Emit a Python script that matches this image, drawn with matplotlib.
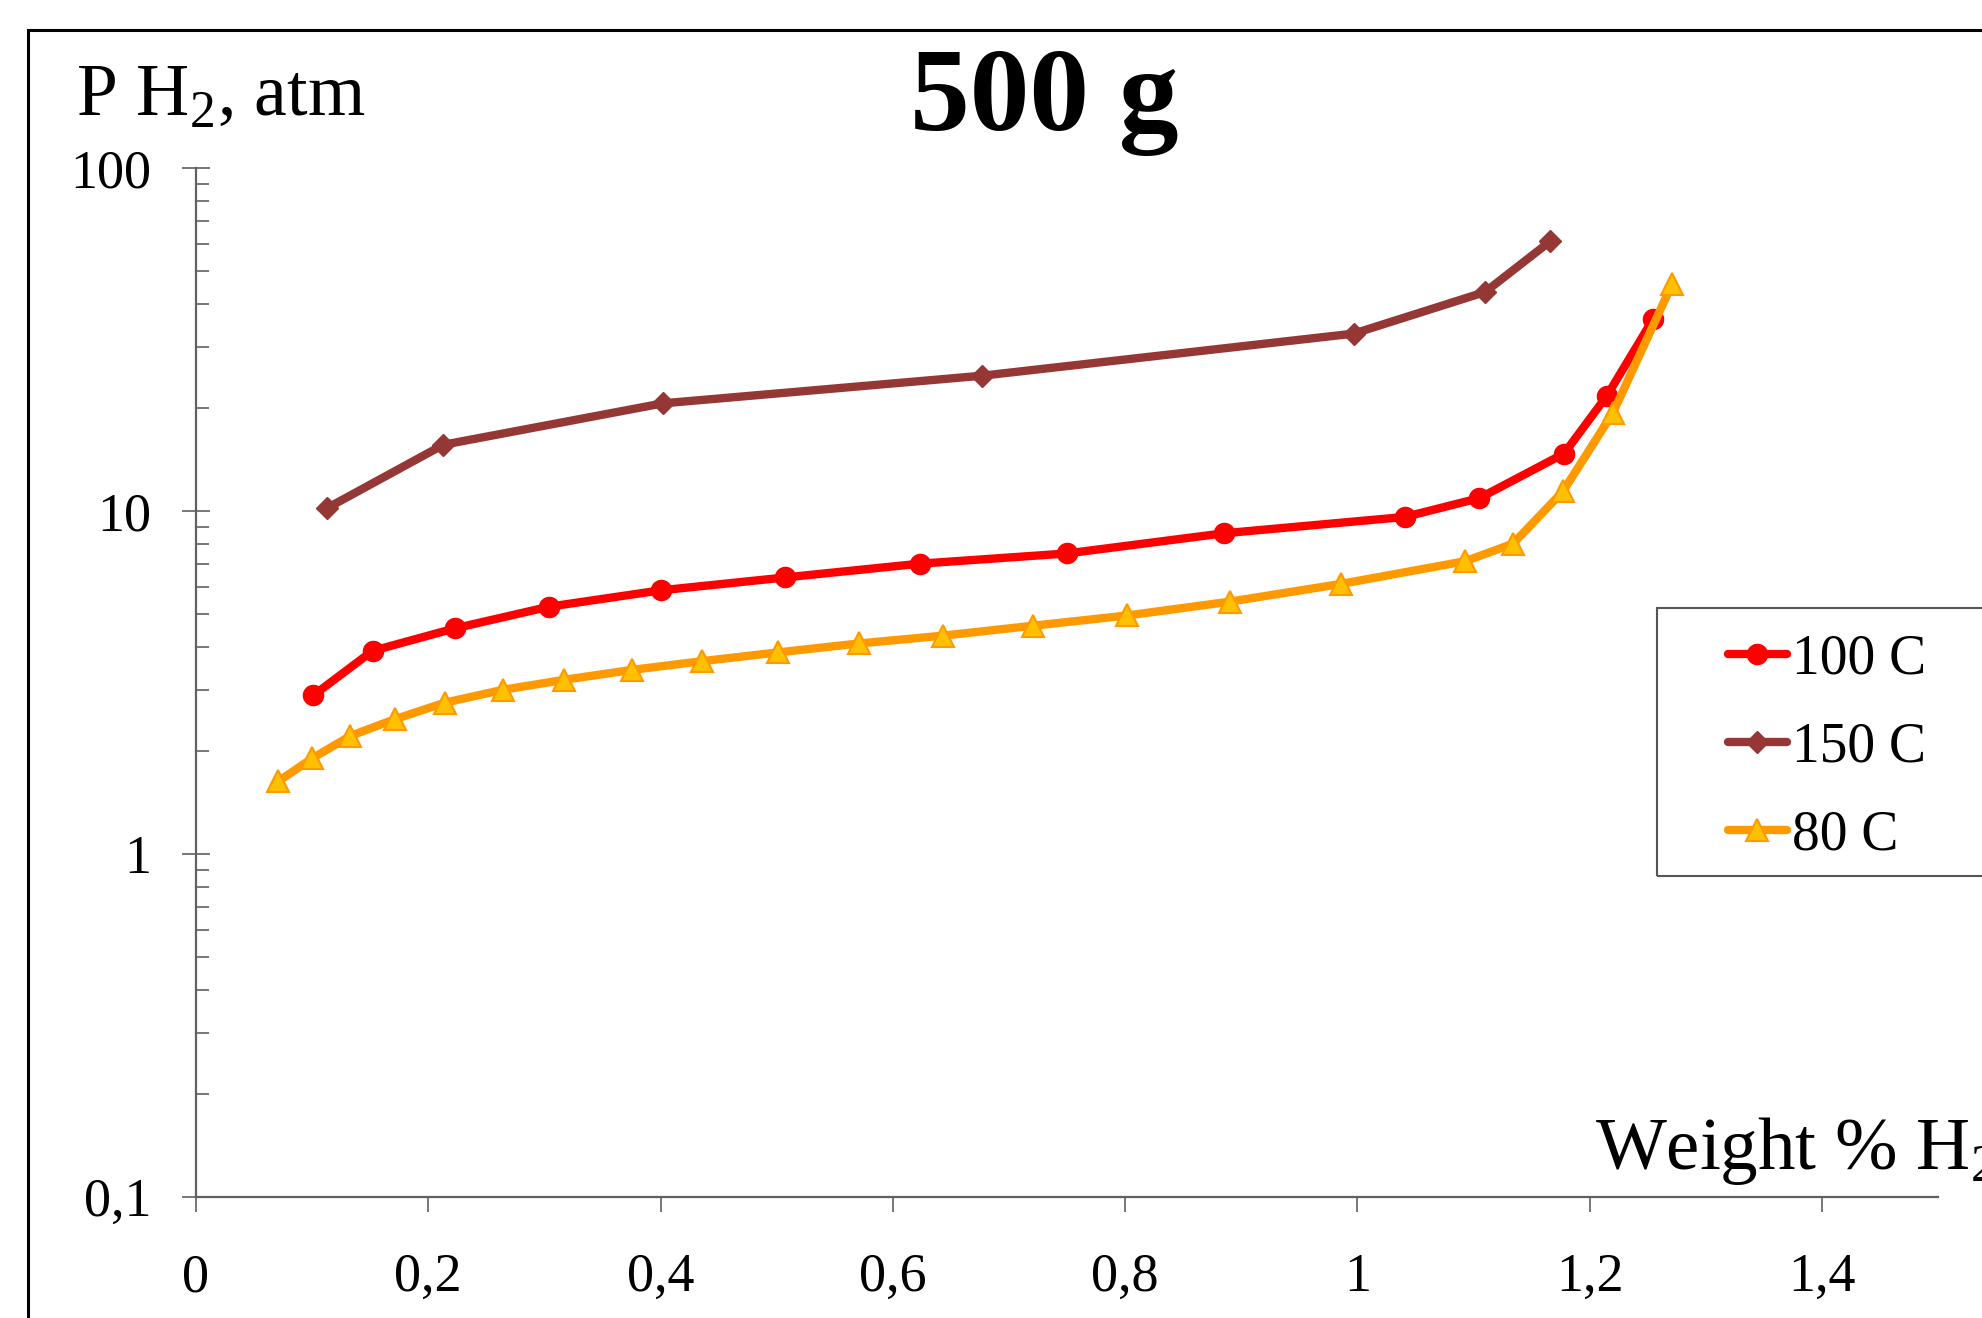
import matplotlib
matplotlib.use("Agg")
import matplotlib.pyplot as plt
from matplotlib.patches import Rectangle

# =============================
# DATA
# =============================
x_100 = [0.101, 0.152, 0.223, 0.304, 0.400, 0.507, 0.623, 0.750, 0.885, 1.041, 1.105, 1.178, 1.215, 1.255]
p_100 = [2.90, 3.91, 4.55, 5.26, 5.87, 6.40, 7.02, 7.52, 8.61, 9.61, 10.9, 14.7, 21.7, 36.4]

x_150 = [0.113, 0.213, 0.402, 0.677, 0.997, 1.110, 1.166]
p_150 = [10.2, 15.6, 20.6, 24.8, 32.9, 43.5, 61.1]

x_80 = [0.071, 0.100, 0.133, 0.171, 0.214, 0.264, 0.317, 0.375, 0.436, 0.501, 0.571,
        0.643, 0.721, 0.802, 0.890, 0.986, 1.093, 1.134, 1.177, 1.220, 1.271]
p_80 = [1.63, 1.90, 2.21, 2.47, 2.76, 3.01, 3.22, 3.44, 3.65, 3.87, 4.11,
        4.33, 4.63, 4.96, 5.44, 6.13, 7.14, 8.03, 11.4, 19.3, 45.8]

series_labels = ["100 C", "150 C", "80 C"]

x_ticks = [0, 0.2, 0.4, 0.6, 0.8, 1.0, 1.2, 1.4]
x_ticklabels = ["0", "0,2", "0,4", "0,6", "0,8", "1", "1,2", "1,4"]
y_ticks = [0.1, 1, 10, 100]
y_ticklabels = ["0,1", "1", "10", "100"]

# =============================
# STYLE
# =============================
plt.rcParams["font.family"] = ["Liberation Serif", "DejaVu Serif"]
plt.rcParams["mathtext.fontset"] = "custom"
plt.rcParams["mathtext.rm"] = "Liberation Serif"

W, H = 1982, 1318
fig = plt.figure(figsize=(W / 100, H / 100), dpi=100)

ax = fig.add_axes([196 / W, 1 - 1197 / H, (1938 - 196) / W, (1197 - 168) / H])

ax.plot(x_100, p_100, color="#FF0000", lw=6, marker="o", ms=14.5,
        solid_capstyle="round", solid_joinstyle="round", label=series_labels[0])
ax.plot(x_150, p_150, color="#953735", lw=6, marker="D", ms=11,
        solid_capstyle="round", solid_joinstyle="round", label=series_labels[1])
ax.plot(x_80, p_80, color="#FF9900", lw=6, marker="^", ms=15.5,
        mfc="#FFC000", mec="#FF9900", mew=1.5,
        solid_capstyle="round", solid_joinstyle="round", label=series_labels[2])

ax.set_yscale("log")
ax.set_xlim(0, 1.5)
ax.set_ylim(0.1, 100)

ax.set_xticks(x_ticks)
ax.set_xticklabels(x_ticklabels)
ax.set_yticks(y_ticks)
ax.set_yticklabels(y_ticklabels)

axis_col = "#606060"
for s in ["top", "right"]:
    ax.spines[s].set_visible(False)
for s in ["left", "bottom"]:
    ax.spines[s].set_color(axis_col)
    ax.spines[s].set_linewidth(1.6)

ax.tick_params(axis="x", which="major", direction="out", length=11, width=1.2,
               color=axis_col, labelsize=39, pad=29)
ax.tick_params(axis="y", which="major", direction="inout", length=20, width=1.2,
               color=axis_col, labelsize=39, pad=22)
ax.tick_params(axis="y", which="minor", direction="in", length=9, width=1.2,
               color=axis_col)
ax.tick_params(axis="x", which="minor", bottom=False)
ax.yaxis.set_minor_formatter(matplotlib.ticker.NullFormatter())

# titles / labels
fig.text(1044 / W, 1 - 130 / H, "500 g", fontsize=86, fontweight="bold",
         ha="center", va="baseline")
fig.text(76 / W, 1 - 116 / H, r"P H$_\mathregular{2}$, atm", fontsize=53,
         ha="left", va="baseline")
fig.text(1595 / W, 1 - 1169 / H, r"Weight % H$_\mathregular{2}$", fontsize=54,
         ha="left", va="baseline")

# legend
ax.legend(loc="upper left", bbox_to_anchor=(1728 / W, 1 - 633 / H),
          bbox_transform=fig.transFigure, frameon=False, fontsize=40,
          borderpad=0, borderaxespad=0, handlelength=1.06, handletextpad=0.09,
          labelspacing=0.65)
fig.add_artist(Rectangle((1657 / W, 1 - 876 / H), 0.3, (876 - 608) / H,
                         transform=fig.transFigure, fill=False,
                         ec="#555555", lw=1.5))

# outer frame
fig.add_artist(Rectangle((28 / W, -0.2), 1.2, 1.2 - 30 / H,
                         transform=fig.transFigure, fill=False,
                         ec="black", lw=2.2))

fig.savefig("out.png", dpi=100)
print("Saved out.png")
